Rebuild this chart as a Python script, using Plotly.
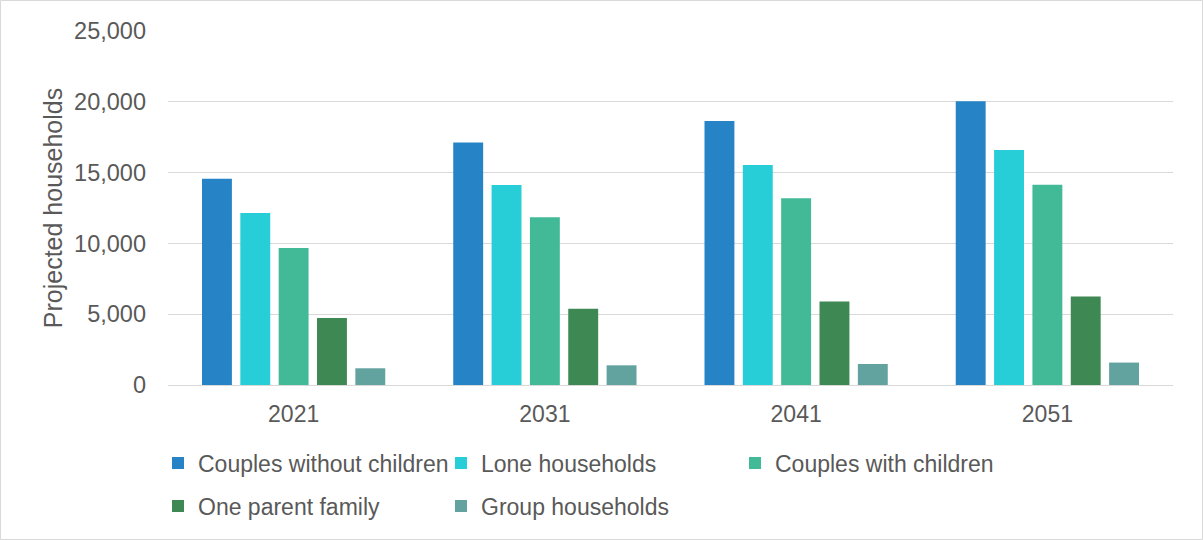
import plotly.graph_objects as go

# Projected households by type, census years
years = ["2021", "2031", "2041", "2051"]
couples_without_children = [14570, 17120, 18650, 20040]
lone_households = [12140, 14120, 15540, 16600]
couples_with_children = [9670, 11840, 13180, 14140]
one_parent_family = [4740, 5380, 5900, 6250]
group_households = [1180, 1390, 1485, 1585]

series_names = [
    "Couples without children",
    "Lone households",
    "Couples with children",
    "One parent family",
    "Group households",
]
series_values = [
    couples_without_children,
    lone_households,
    couples_with_children,
    one_parent_family,
    group_households,
]
colors = ["#2683C6", "#27CED7", "#42BA97", "#3E8853", "#62A39F"]

W, H = 1203, 540
ML, MR, MT, MB = 168, 30, 31, 155
TEXT = "#595959"
FONT = "Liberation Sans, Arial, sans-serif"

# legend slots (container pixels: left x, centre y)
legend_ids = ["legend", "legend2", "legend3", "legend4", "legend5"]
legend_pos = [(158, 463), (441, 463), (735, 463), (158, 506), (441, 506)]

fig = go.Figure()
for name, vals, col, lid in zip(series_names, series_values, colors, legend_ids):
    fig.add_trace(
        go.Bar(
            x=years,
            y=vals,
            name=name,
            marker=dict(color=col, line=dict(width=0)),
            legend=lid,
        )
    )

layout_legends = {}
for lid, (px, py) in zip(legend_ids, legend_pos):
    layout_legends[lid] = dict(
        x=px / W,
        y=1 - py / H,
        xref="container",
        yref="container",
        xanchor="left",
        yanchor="middle",
        orientation="h",
        bgcolor="rgba(0,0,0,0)",
        font=dict(family=FONT, size=23, color=TEXT),
        itemwidth=30,
        itemclick=False,
    )

fig.update_layout(
    width=W,
    height=H,
    margin=dict(l=ML, r=MR, t=MT, b=MB, autoexpand=False),
    paper_bgcolor="white",
    plot_bgcolor="white",
    font=dict(family=FONT, color=TEXT, size=23),
    barmode="group",
    bargap=0.237,
    bargroupgap=0.22,
    showlegend=True,
    **layout_legends,
)

fig.update_xaxes(
    type="category",
    showgrid=False,
    showline=True,
    linecolor="#D9D9D9",
    linewidth=1,
    ticks="",
    ticklabelstandoff=8,
    tickfont=dict(family=FONT, size=23, color=TEXT),
)
fig.update_yaxes(
    range=[0, 25000],
    tickvals=[0, 5000, 10000, 15000, 20000, 25000],
    ticktext=["0", "5,000", "10,000", "15,000", "20,000", "25,000"],
    showgrid=True,
    gridcolor="#D9D9D9",
    gridwidth=1,
    zeroline=False,
    showline=False,
    ticks="",
    ticklabelstandoff=21,
    tickfont=dict(family=FONT, size=23.5, color=TEXT),
    title=dict(
        text="Projected households",
        font=dict(family=FONT, size=25, color=TEXT),
        standoff=4,
    ),
)

# light frame around the whole chart
pw = W - ML - MR
ph = H - MT - MB
fig.add_shape(
    type="rect",
    xref="paper",
    yref="paper",
    x0=(0.5 - ML) / pw,
    x1=(W - 0.5 - ML) / pw,
    y0=-(H - 0.5 - MT - ph) / ph,
    y1=1 + (MT - 0.5) / ph,
    line=dict(color="#D9D9D9", width=1),
    fillcolor="rgba(0,0,0,0)",
    layer="below",
)

fig.write_html("out.html")
